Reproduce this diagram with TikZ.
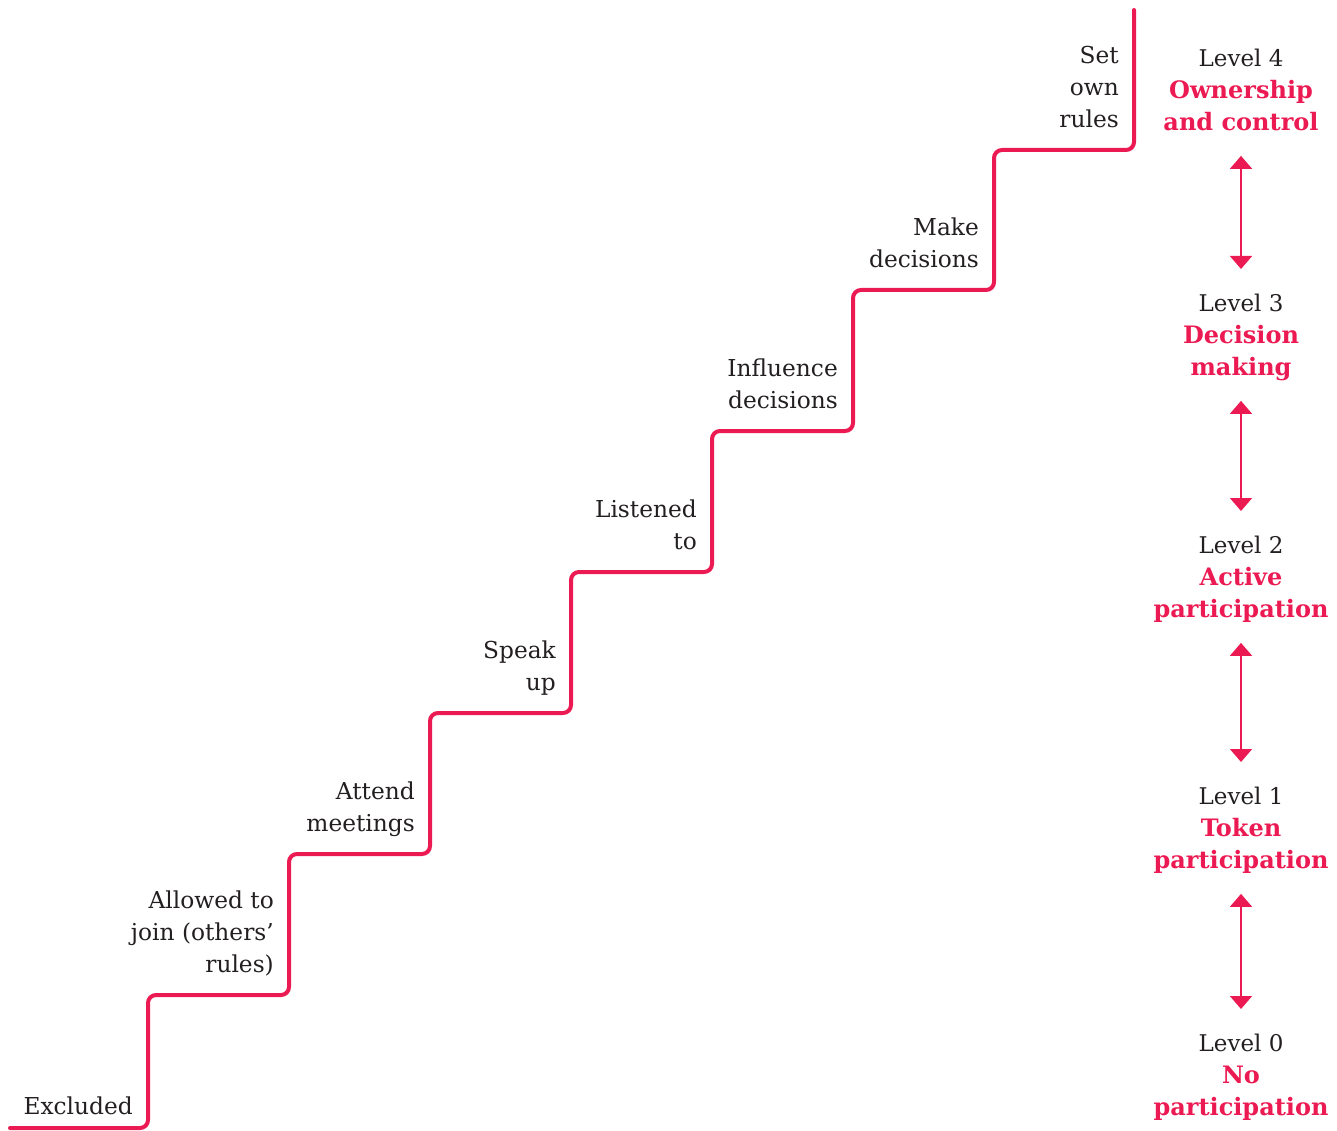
\documentclass[tikz,border=0pt]{standalone}
\usepackage{fontspec}
\setmainfont{DejaVu Serif}
\usetikzlibrary{arrows.meta}
\definecolor{accent}{RGB}{236,26,82}
\definecolor{ink}{RGB}{35,31,32}
\begin{document}
\begin{tikzpicture}[x=1pt,y=-1pt,
  stair/.style={draw=accent,line width=4pt,rounded corners=8pt,line cap=round},
  steplabel/.style={anchor=south east,align=right,font=\fontsize{23.3}{32}\selectfont,text=ink,inner sep=0pt,text depth=0pt},
  lvl/.style={anchor=north,align=center,font=\fontsize{23}{32}\selectfont,text=ink,inner sep=0pt,text depth=0pt},
  link/.style={draw=accent,line width=1.7pt,shorten <=25pt,shorten >=25pt,
    {Triangle[width=22pt,length=13pt]}-{Triangle[width=22pt,length=13pt]}}]
\useasboundingbox (0,0) rectangle (1337,1131);

% staircase
\draw[stair] (10,1128) -| (148,995) -| (289,854) -| (430,713) -| (571,572)
  -| (712,431) -| (853,290) -| (994,150) -| (1134,10);

% step labels
\node[steplabel] (s0) at (133,1115) {Excluded};
\node[steplabel] (s1) at (274,973) {Allowed to\\join (others’\\rules)};
\node[steplabel] (s2) at (415,832) {Attend\\meetings};
\node[steplabel] (s3) at (556,691) {Speak\\up};
\node[steplabel] (s4) at (697,550) {Listened\\to};
\node[steplabel] (s5) at (838,409) {Influence\\decisions};
\node[steplabel] (s6) at (979,268) {Make\\decisions};
\node[steplabel] (s7) at (1119,128) {Set\\own\\rules};

% levels
\newcommand\lvlname[1]{{\color{accent}\fontsize{24}{32}\selectfont\bfseries #1}}
\node[lvl] (L4) at (1241,49) {Level 4\\\lvlname{Ownership}\\\lvlname{and control}};
\node[lvl] (L3) at (1241,294) {Level 3\\\lvlname{Decision}\\\lvlname{making}};
\node[lvl] (L2) at (1241,536) {Level 2\\\lvlname{Active}\\\lvlname{participation}};
\node[lvl] (L1) at (1241,787) {Level 1\\\lvlname{Token}\\\lvlname{participation}};
\node[lvl] (L0) at (1241,1034) {Level 0\\\lvlname{No}\\\lvlname{participation}};

\draw[link] (L4.south) -- (L3.north);
\draw[link] (L3.south) -- (L2.north);
\draw[link] (L2.south) -- (L1.north);
\draw[link] (L1.south) -- (L0.north);
\end{tikzpicture}
\end{document}
